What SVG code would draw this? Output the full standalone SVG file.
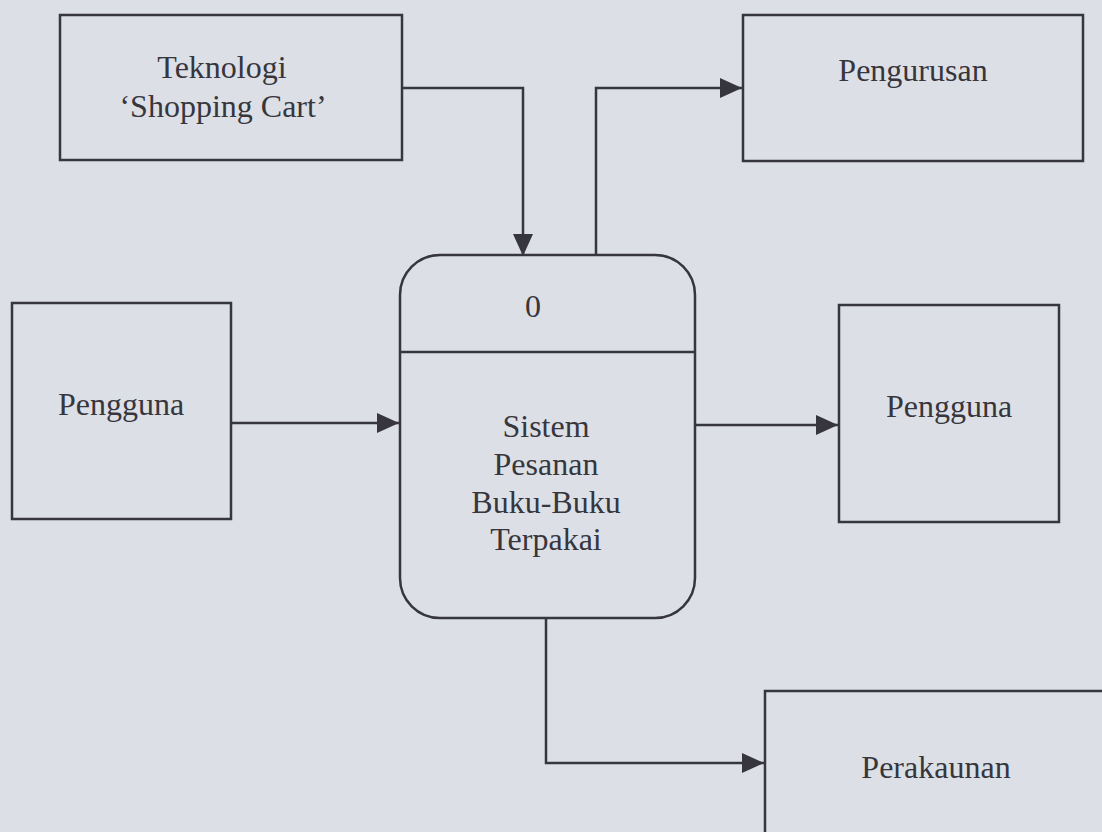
<svg xmlns="http://www.w3.org/2000/svg" width="1102" height="832" viewBox="0 0 1102 832">
<defs>
<style>
.box{fill:none;stroke:#36363c;stroke-width:2.5}
.line{fill:none;stroke:#36363c;stroke-width:2.5}
text{font-family:"Liberation Serif","Times New Roman",serif;font-size:32px;fill:#36363c;text-anchor:middle}
</style>
<marker id="arr" viewBox="0 0 22 20" refX="22" refY="10" markerWidth="22" markerHeight="20" markerUnits="userSpaceOnUse" orient="auto">
<path d="M0,0 L22,10 L0,20 Z" fill="#36363c"/>
</marker>
</defs>
<rect width="1102" height="832" fill="#dddfe7"/>
<g id="teknologi">
<rect class="box" x="60" y="15" width="342" height="145"/>
<text x="222" y="78">Teknologi</text>
<text x="223" y="117">‘Shopping Cart’</text>
</g>
<g id="pengurusan">
<rect class="box" x="743" y="15" width="340" height="146"/>
<text x="913" y="81">Pengurusan</text>
</g>
<g id="pengguna-in">
<rect class="box" x="12" y="303" width="219" height="216"/>
<text x="121" y="415">Pengguna</text>
</g>
<g id="pengguna-out">
<rect class="box" x="839" y="305" width="220" height="217"/>
<text x="949" y="417">Pengguna</text>
</g>
<g id="perakaunan">
<rect class="box" x="765" y="691" width="360" height="170"/>
<text x="936" y="778">Perakaunan</text>
</g>
<g id="process0">
<rect class="box" x="400" y="255" width="295" height="363" rx="40" ry="40"/>
<line class="line" x1="400" y1="352" x2="695" y2="352"/>
<text x="533" y="317">0</text>
<text x="546" y="437">Sistem</text>
<text x="546" y="475">Pesanan</text>
<text x="546" y="513">Buku-Buku</text>
<text x="546" y="550">Terpakai</text>
</g>
<g id="connectors">
<polyline class="line" points="402,88 523,88 523,256" marker-end="url(#arr)"/>
<polyline class="line" points="596,255 596,88 742,88" marker-end="url(#arr)"/>
<line class="line" x1="231" y1="423" x2="399" y2="423" marker-end="url(#arr)"/>
<line class="line" x1="695" y1="425" x2="838" y2="425" marker-end="url(#arr)"/>
<polyline class="line" points="546,618 546,763 764,763" marker-end="url(#arr)"/>
</g>
</svg>
